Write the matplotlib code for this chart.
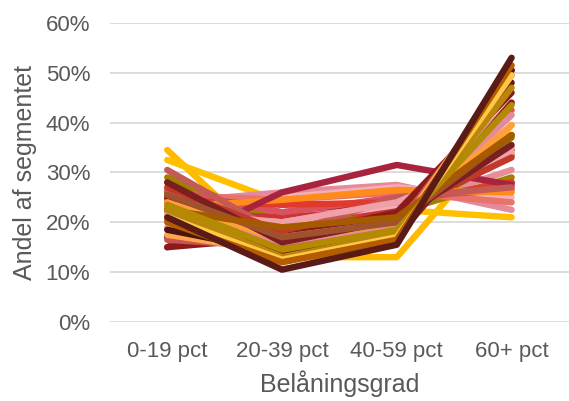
import matplotlib
matplotlib.use('Agg')
import matplotlib.pyplot as plt
from matplotlib.ticker import PercentFormatter

plt.rcParams['font.family'] = ['Liberation Sans', 'DejaVu Sans']

CATEGORIES = ['0-19 pct', '20-39 pct', '40-59 pct', '60+ pct']

# share of the segment (%) in each loan-to-value bucket, one row per series
SERIES = [
    [34.5, 13.0, 13.0, 39.5],
    [32.5, 24.0, 22.5, 21.0],
    [26.0, 22.0, 24.0, 28.0],
    [25.5, 21.0, 23.0, 30.5],
    [29.0, 20.0, 22.0, 29.0],
    [28.0, 17.5, 21.0, 33.5],
    [22.0, 21.0, 22.5, 34.5],
    [21.5, 20.0, 23.5, 35.0],
    [26.0, 17.0, 20.0, 37.0],
    [24.0, 26.0, 27.5, 22.5],
    [23.0, 25.0, 27.0, 25.0],
    [25.5, 24.5, 26.0, 24.0],
    [26.5, 22.0, 25.0, 26.5],
    [24.5, 23.5, 24.0, 28.0],
    [23.0, 24.5, 26.5, 26.0],
    [15.0, 26.0, 31.5, 27.5],
    [30.5, 17.5, 25.0, 27.0],
    [22.0, 20.0, 24.0, 34.0],
    [27.0, 18.0, 22.0, 33.0],
    [15.0, 17.0, 22.0, 46.0],
    [19.0, 17.0, 20.0, 44.0],
    [17.0, 16.0, 19.0, 48.0],
    [16.5, 15.0, 19.0, 49.5],
    [17.5, 14.0, 18.0, 50.5],
    [20.5, 12.0, 17.0, 50.5],
    [18.5, 14.0, 17.0, 50.5],
    [25.0, 14.0, 17.0, 44.0],
    [24.0, 15.0, 18.5, 42.5],
    [23.0, 16.0, 19.5, 41.5],
    [24.0, 16.5, 20.0, 39.5],
    [28.0, 16.0, 20.5, 35.5],
    [25.5, 17.0, 20.0, 37.5],
    [22.5, 19.0, 21.0, 37.5],
    [23.5, 14.5, 18.5, 43.5],
    [22.5, 13.0, 17.5, 47.0],
    [21.0, 12.5, 17.0, 49.5],
    [20.0, 12.0, 16.5, 51.5],
    [21.0, 10.5, 15.5, 53.0],
]

COLORS = [
    '#FFBA00', '#FFC000', '#B22234', '#E88C97',
    '#A08000', '#8C7800', '#CC3333', '#F2AFB5',
    '#8B7500', '#E58A9A', '#F4B0B8', '#E8736A',
    '#D9525E', '#E03A2F', '#FF8C1A', '#A8243E',
    '#C45A55', '#F0A0A8', '#C0392B', '#8B1A1A',
    '#E89AA5', '#6B1515', '#C65450', '#FFA64D',
    '#E06055', '#4A1410', '#8B1A1A', '#E0574F',
    '#E58A9A', '#FF9E3D', '#7A1F1F', '#A0522D',
    '#A65A00', '#B38B00', '#B8860B', '#FFC845',
    '#B35C00', '#5A1A15',
]

fig = plt.figure(figsize=(5.69, 4.01), dpi=100)
ax = fig.add_axes([0.193, 0.197, 0.807, 0.746])

x = range(len(CATEGORIES))
for vals, col in zip(SERIES, COLORS):
    ax.plot(x, [v / 100 for v in vals], color=col, lw=4.6,
            solid_capstyle='round', solid_joinstyle='round')

ax.set_xlim(-0.5, 3.5)
ax.set_ylim(0, 0.6)
ax.set_yticks([0, 0.1, 0.2, 0.3, 0.4, 0.5, 0.6])
ax.yaxis.set_major_formatter(PercentFormatter(1.0, decimals=0))
ax.set_xticks(list(x))
ax.set_xticklabels(CATEGORIES)
ax.grid(axis='y', color='#D9D9D9', lw=1.3)
ax.set_axisbelow(True)
for s in ax.spines.values():
    s.set_visible(False)
ax.tick_params(length=0, colors='#595959', labelsize=16)
ax.tick_params(axis='y', pad=14)
ax.tick_params(axis='x', pad=14)

ax.set_xlabel('Belåningsgrad', fontsize=18, color='#595959', labelpad=6)
ax.set_ylabel('Andel af segmentet', fontsize=18, color='#595959', labelpad=6)

fig.savefig('out.png', dpi=100)
